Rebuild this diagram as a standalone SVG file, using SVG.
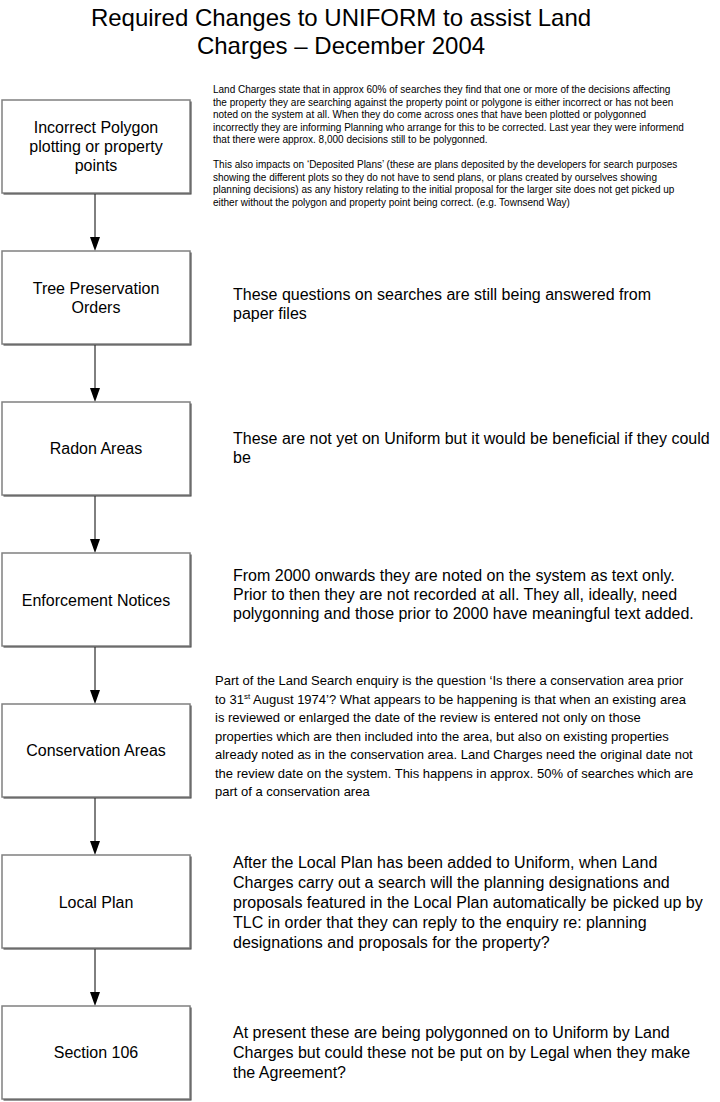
<svg xmlns="http://www.w3.org/2000/svg" width="720" height="1102" viewBox="0 0 720 1102">
<style>
text{font-family:"Liberation Sans",Arial,sans-serif;fill:#000}
.title{font-size:24px;text-anchor:middle}
.lbl{font-size:16px;text-anchor:middle}
.note{font-size:16px}
.small{font-size:10px}
.mid{font-size:13px}
.box{fill:#fff;stroke:#808080;stroke-width:1.5}
.shadow{fill:#333}
.conn{stroke:#000;stroke-width:1;fill:none}
.head{fill:#000}
</style>
<rect width="720" height="1102" fill="#fff"/>
<g id="title">
<text class="title" x="341" y="26">Required Changes to UNIFORM to assist Land</text>
<text class="title" x="341" y="54">Charges – December 2004</text>
</g>
<g id="connectors">
<path class="conn" d="M95,194 V237"/>
<path class="head" d="M90,237 L100,237 L95,251 Z"/>
<path class="conn" d="M95,345 V388"/>
<path class="head" d="M90,388 L100,388 L95,402 Z"/>
<path class="conn" d="M95,496 V539"/>
<path class="head" d="M90,539 L100,539 L95,553 Z"/>
<path class="conn" d="M95,647 V690"/>
<path class="head" d="M90,690 L100,690 L95,704 Z"/>
<path class="conn" d="M95,798 V841"/>
<path class="head" d="M90,841 L100,841 L95,855 Z"/>
<path class="conn" d="M95,949 V992"/>
<path class="head" d="M90,992 L100,992 L95,1006 Z"/>
</g>
<g id="n1">
<rect class="shadow" x="3.5" y="101.5" width="188" height="93"/>
<rect class="box" x="2" y="100" width="188" height="93"/>
<text class="lbl" x="96" y="133">Incorrect Polygon</text>
<text class="lbl" x="96" y="152">plotting or property</text>
<text class="lbl" x="96" y="171">points</text>
</g>
<g id="t1">
<text class="small" x="213" y="93">Land Charges state that in approx 60% of searches they find that one or more of the decisions affecting</text>
<text class="small" x="213" y="105.5">the property they are searching against the property point or polygone is either incorrect or has not been</text>
<text class="small" x="213" y="118">noted on the system at all. When they do come across ones that have been plotted or polygonned</text>
<text class="small" x="213" y="130.5">incorrectly they are informing Planning who arrange for this to be corrected. Last year they were informend</text>
<text class="small" x="213" y="143">that there were approx. 8,000 decisions still to be polygonned.</text>
<text class="small" x="213" y="168">This also impacts on ‘Deposited Plans’ (these are plans deposited by the developers for search purposes</text>
<text class="small" x="213" y="180.5">showing the different plots so they do not have to send plans, or plans created by ourselves showing</text>
<text class="small" x="213" y="193">planning decisions) as any history relating to the initial proposal for the larger site does not get picked up</text>
<text class="small" x="213" y="205.5">either without the polygon and property point being correct. (e.g. Townsend Way)</text>
</g>
<g id="n2">
<rect class="shadow" x="3.5" y="252.5" width="188" height="93"/>
<rect class="box" x="2" y="251" width="188" height="93"/>
<text class="lbl" x="96" y="294">Tree Preservation</text>
<text class="lbl" x="96" y="313">Orders</text>
</g>
<g id="t2">
<text class="note" x="233" y="300">These questions on searches are still being answered from</text>
<text class="note" x="233" y="319">paper files</text>
</g>
<g id="n3">
<rect class="shadow" x="3.5" y="403.5" width="188" height="93"/>
<rect class="box" x="2" y="402" width="188" height="93"/>
<text class="lbl" x="96" y="454">Radon Areas</text>
</g>
<g id="t3">
<text class="note" x="233" y="444">These are not yet on Uniform but it would be beneficial if they could</text>
<text class="note" x="233" y="463">be</text>
</g>
<g id="n4">
<rect class="shadow" x="3.5" y="554.5" width="188" height="93"/>
<rect class="box" x="2" y="553" width="188" height="93"/>
<text class="lbl" x="96" y="606">Enforcement Notices</text>
</g>
<g id="t4">
<text class="note" x="233" y="581">From 2000 onwards they are noted on the system as text only.</text>
<text class="note" x="233" y="600">Prior to then they are not recorded at all. They all, ideally, need</text>
<text class="note" x="233" y="619">polygonning and those prior to 2000 have meaningful text added.</text>
</g>
<g id="n5">
<rect class="shadow" x="3.5" y="705.5" width="188" height="93"/>
<rect class="box" x="2" y="704" width="188" height="93"/>
<text class="lbl" x="96" y="756">Conservation Areas</text>
</g>
<g id="t5">
<text class="mid" x="215" y="685">Part of the Land Search enquiry is the question ‘Is there a conservation area prior</text>
<text class="mid" x="215" y="704">to 31<tspan font-size="8" dy="-5">st</tspan><tspan dy="5"> August 1974’? What appears to be happening is that when an existing area</tspan></text>
<text class="mid" x="215" y="722">is reviewed or enlarged the date of the review is entered not only on those</text>
<text class="mid" x="215" y="741">properties which are then included into the area, but also on existing properties</text>
<text class="mid" x="215" y="759">already noted as in the conservation area. Land Charges need the original date not</text>
<text class="mid" x="215" y="778">the review date on the system. This happens in approx. 50% of searches which are</text>
<text class="mid" x="215" y="796">part of a conservation area</text>
</g>
<g id="n6">
<rect class="shadow" x="3.5" y="856.5" width="188" height="93"/>
<rect class="box" x="2" y="855" width="188" height="93"/>
<text class="lbl" x="96" y="908">Local Plan</text>
</g>
<g id="t6">
<text class="note" x="233" y="868">After the Local Plan has been added to Uniform, when Land</text>
<text class="note" x="233" y="888">Charges carry out a search will the planning designations and</text>
<text class="note" x="233" y="908">proposals featured in the Local Plan automatically be picked up by</text>
<text class="note" x="233" y="928">TLC in order that they can reply to the enquiry re: planning</text>
<text class="note" x="233" y="948">designations and proposals for the property?</text>
</g>
<g id="n7">
<rect class="shadow" x="3.5" y="1007.5" width="188" height="93"/>
<rect class="box" x="2" y="1006" width="188" height="93"/>
<text class="lbl" x="96" y="1058">Section 106</text>
</g>
<g id="t7">
<text class="note" x="233" y="1038">At present these are being polygonned on to Uniform by Land</text>
<text class="note" x="233" y="1058">Charges but could these not be put on by Legal when they make</text>
<text class="note" x="233" y="1078">the Agreement?</text>
</g>
</svg>
